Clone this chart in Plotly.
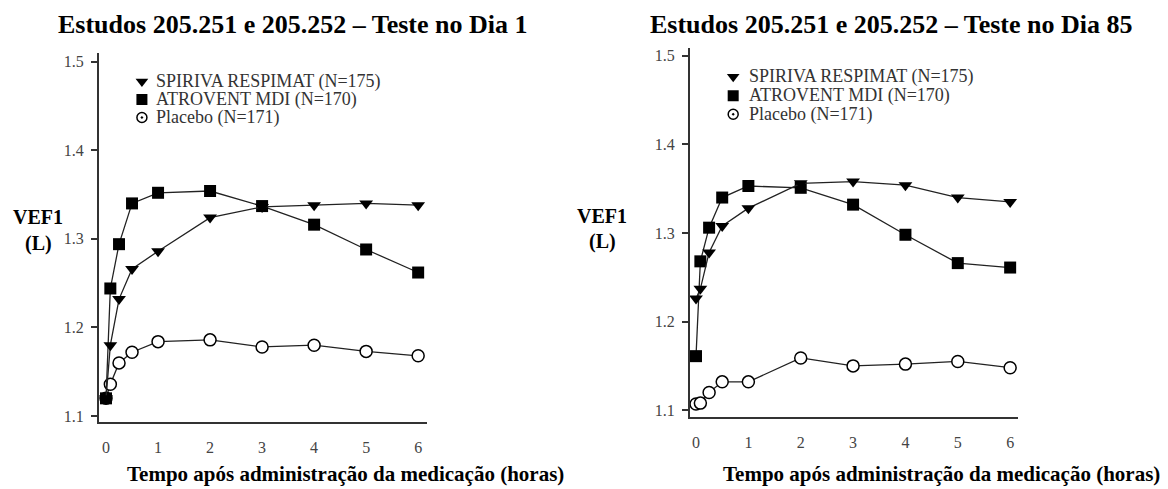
import plotly.graph_objects as go

# ---------------- data ----------------
times = [0, 0.083, 0.25, 0.5, 1, 2, 3, 4, 5, 6]

day1_spiriva = [1.120, 1.180, 1.232, 1.266, 1.286, 1.324, 1.336, 1.338, 1.340, 1.338]
day1_atrovent = [1.120, 1.244, 1.294, 1.340, 1.352, 1.354, 1.337, 1.316, 1.288, 1.262]
day1_placebo = [1.120, 1.136, 1.160, 1.172, 1.184, 1.186, 1.178, 1.180, 1.173, 1.168]

day85_spiriva = [1.226, 1.237, 1.278, 1.308, 1.328, 1.356, 1.358, 1.354, 1.340, 1.335]
day85_atrovent = [1.161, 1.268, 1.306, 1.340, 1.353, 1.351, 1.332, 1.298, 1.266, 1.261]
day85_placebo = [1.107, 1.108, 1.120, 1.132, 1.132, 1.159, 1.150, 1.152, 1.155, 1.148]

x_tick_vals = [0, 1, 2, 3, 4, 5, 6]
x_tick_labels = ["0", "1", "2", "3", "4", "5", "6"]
y_tick_vals = [1.1, 1.2, 1.3, 1.4, 1.5]
y_tick_labels = ["1.1", "1.2", "1.3", "1.4", "1.5"]

series_names = ["SPIRIVA RESPIMAT (N=175)", "ATROVENT MDI (N=170)", "Placebo (N=171)"]
panel_titles = ["Estudos 205.251 e 205.252 – Teste no Dia 1",
                "Estudos 205.251 e 205.252 – Teste no Dia 85"]
x_title = "Tempo após administração da medicação (horas)"
y_title_1 = "VEF1"
y_title_2 = "(L)"

# legend row values (data y) and x positions per panel
legend_rows_1 = [1.4775, 1.4573, 1.437]
legend_rows_2 = [1.4764, 1.455, 1.434]
legend_marker_x = [0.69, 0.71]
legend_text_x = [0.92, 0.975]

# ---------------- styles ----------------
W, H = 1168, 489
FONT = "Liberation Serif"
LINE_COLOR = "#222222"
styles = [
    dict(symbol="triangle-down", size=12, color="black", line=dict(width=0)),
    dict(symbol="square", size=12, color="black", line=dict(width=0)),
    dict(symbol="circle", size=12, color="white", line=dict(width=1.5, color="black")),
]
legend_styles = [
    dict(symbol="triangle-down", size=11, color="black", line=dict(width=0)),
    dict(symbol="square", size=11, color="black", line=dict(width=0)),
    dict(symbol="circle-open-dot", size=10, color="black", line=dict(width=1.5)),
]

fig = go.Figure()

panels = [
    ("x", "y", [day1_spiriva, day1_atrovent, day1_placebo], legend_rows_1, 0),
    ("x2", "y2", [day85_spiriva, day85_atrovent, day85_placebo], legend_rows_2, 1),
]

for xr, yr, series, rows, idx in panels:
    # draw placebo first, then atrovent, then spiriva
    for k in [2, 1, 0]:
        fig.add_trace(go.Scatter(
            x=times, y=series[k], mode="lines+markers", xaxis=xr, yaxis=yr,
            line=dict(color=LINE_COLOR, width=1.3),
            marker=styles[k], showlegend=False, cliponaxis=False,
            name=series_names[k],
        ))
    # legend markers
    for k in range(3):
        fig.add_trace(go.Scatter(
            x=[legend_marker_x[idx]], y=[rows[k]], mode="markers",
            xaxis=xr, yaxis=yr, marker=legend_styles[k], showlegend=False,
            hoverinfo="skip",
        ))
        fig.add_annotation(
            x=legend_text_x[idx], y=rows[k], xref=xr, yref=yr,
            text=series_names[k], showarrow=False, xanchor="left", yanchor="middle",
            font=dict(family=FONT, size=18, color="#333333"),
        )

axis_common = dict(showgrid=False, zeroline=False, showline=True,
                   linecolor="#333333", linewidth=2)

fig.update_layout(
    width=W, height=H, margin=dict(l=0, r=0, t=0, b=0),
    paper_bgcolor="white", plot_bgcolor="white",
    font=dict(family=FONT, color="#444444"),
    xaxis=dict(domain=[99 / W, 427 / W], range=[-0.135, 6.17], anchor="y",
               tickvals=x_tick_vals, ticktext=x_tick_labels, ticks="outside",
               ticklen=10, tickcolor="rgba(0,0,0,0)",
               tickfont=dict(family=FONT, size=16, color="#444444"), **axis_common),
    yaxis=dict(domain=[1 - 424 / H, 1 - 53 / H], range=[1.093, 1.510], anchor="x",
               tickvals=y_tick_vals, ticktext=y_tick_labels, ticks="outside",
               ticklen=6, tickwidth=1.5, tickcolor="#333333", ticklabelstandoff=4,
               tickfont=dict(family=FONT, size=16, color="#444444"), **axis_common),
    xaxis2=dict(domain=[690 / W, 1018 / W], range=[-0.115, 6.15], anchor="y2",
                tickvals=x_tick_vals, ticktext=x_tick_labels, ticks="outside",
                ticklen=10, tickcolor="rgba(0,0,0,0)",
                tickfont=dict(family=FONT, size=16, color="#444444"), **axis_common),
    yaxis2=dict(domain=[1 - 419 / H, 1 - 48 / H], range=[1.092, 1.509], anchor="x2",
                tickvals=y_tick_vals, ticktext=y_tick_labels, ticks="outside",
                ticklen=6, tickwidth=1.5, tickcolor="#333333", ticklabelstandoff=4,
                tickfont=dict(family=FONT, size=16, color="#444444"), **axis_common),
)

def px_ann(text, cx, cy, size, color="black", bold=True):
    fig.add_annotation(
        x=cx / W, y=1 - cy / H, xref="paper", yref="paper",
        text=f"<b>{text}</b>" if bold else text, showarrow=False,
        xanchor="center", yanchor="middle",
        font=dict(family=FONT, size=size, color=color),
    )

# titles
px_ann(panel_titles[0], 293, 25, 26)
px_ann(panel_titles[1], 891, 25, 26)
# x axis titles
px_ann(x_title, 345, 476, 21)
px_ann(x_title, 941, 476, 21)
# y axis titles
px_ann(y_title_1, 38, 218, 20)
px_ann(y_title_2, 38, 244, 20)
px_ann(y_title_1, 602, 217, 20)
px_ann(y_title_2, 602, 242, 20)

fig.write_html("out.html", config={"displayModeBar": False},
               post_script="document.body.style.margin='0px';document.body.style.overflow='hidden';")
